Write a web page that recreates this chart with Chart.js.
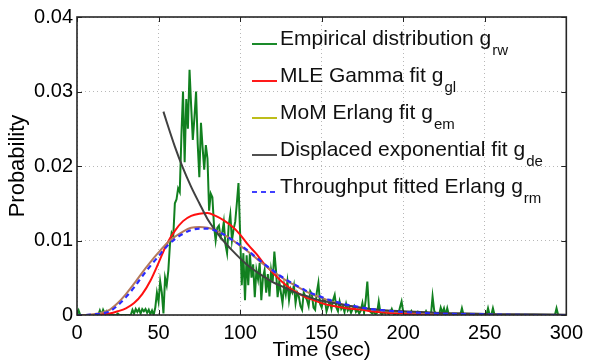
<!DOCTYPE html>
<html><head><meta charset="utf-8">
<script src="https://cdn.jsdelivr.net/npm/chart.js@4"></script>
<style>html,body{margin:0;padding:0;background:#fff;}#wrap{width:589px;height:361px;position:relative;}</style>
</head><body><div id="wrap"><canvas id="c" width="589" height="361"></canvas></div>
<script>
// ---- data ----
const xTicks = [0, 50, 100, 150, 200, 250, 300];
const yTicks = [0, 0.01, 0.02, 0.03, 0.04];
const yTickLabels = ['0', '0.01', '0.02', '0.03', '0.04'];

// Empirical distribution, one value per second, t = 0..300
const empiricalStart = 0, empiricalStep = 1;
const empirical = [
0,0.0006,0,0,0,0,0,0,0,0,
0,0,0,0,0.0006,0,0.0007,0.0002,0.0005,0,
0,0,0,0,0,0.0002,0,0,0,0,
0,0,0,0,0.0007,0.0002,0.0008,0.0004,0.0008,0.0002,
0.0008,0.0005,0.0008,0.0003,0.0007,0.0001,0.0006,0.0000,0.0010,0.0030,
0.0018,0.0045,0.0030,0.0002,0.0050,0.0040,0.0060,0.0095,0.0110,0.0105,
0.0150,0.0155,0.0170,0.0165,0.0240,0.0300,0.0205,0.0290,0.0250,0.0329,
0.0280,0.0235,0.0265,0.0300,0.0230,0.0185,0.0258,0.0225,0.0195,0.0228,
0.0210,0.0140,0.0163,0.0158,0.0120,0.0100,0.0117,0.0120,0.0105,0.0110,
0.0125,0.0095,0.0083,0.0120,0.0135,0.0100,0.0115,0.0125,0.0150,0.0177,
0.0110,0.0040,0.0083,0.0020,0.0080,0.0040,0.0083,0.0050,0.0068,0.0024,
0.0060,0.0048,0.0070,0.0020,0.0050,0.0060,0.0030,0.0055,0.0025,0.0060,
0.0045,0.0085,0.0060,0.0024,0.0045,0.0030,0.0016,0.0040,0.0028,0.0045,
0.0020,0.0035,0.0030,0.0040,0.0016,0.0030,0.0025,0.0012,0.0007,0.0030,
0.0025,0.0020,0.0012,0.0032,0.0028,0.0010,0.0007,0.0030,0.0043,0.0015,
0.0010,0.0022,0.0020,0.0005,0.0012,0.0018,0.0008,0.0020,0.0027,0.0010,
0.0005,0.0018,0.0008,0.0012,0.0004,0.0015,0.0006,0.0010,0.0003,0.0008,
0.0012,0.0004,0.0007,0.0002,0.0006,0.0016,0.0003,0.0020,0.0045,0.0008,
0.0004,0.0002,0.0004,0.0001,0.0003,0.0018,0.0003,0.0001,0.0004,0.0002,
0.0005,0.0001,0.0003,0.0008,0.0002,0,0.0004,0.0001,0.0010,0.0018,
0.0004,0.0002,0,0.0003,0,0.0005,0,0.0002,0,0.0004,
0,0.0003,0,0,0.0005,0,0.0002,0,0.0025,0.0006,
0.0001,0,0,0.0010,0.0003,0.0009,0,0.0009,0,0,
0,0,0,0,0,0,0.0009,0,0,0,
0,0,0,0,0,0,0,0,0,0,
0,0,0.0009,0,0,0.0009,0,0,0,0,
0,0,0,0,0,0,0,0,0,0,
0,0,0,0,0,0,0,0,0,0,
0,0,0,0,0,0,0,0,0,0,
0,0,0,0,0.0009,0,0,0,0,0,
0
];

const fitTimes = [0,5,10,15,20,25,30,35,40,45,50,55,60,65,70,75,80,85,90,95,100,105,110,115,120,125,130,135,140,145,150,155,160,165,170,175,180,190,200,210,220,240,260,280,300];
const mleGamma = [0,0,0,0.0001,0.0002,0.0005,0.0009,0.0016,0.0028,0.0046,0.0070,0.0095,0.0113,0.0126,0.0133,0.0136,0.0137,0.0133,0.0127,0.0119,0.0108,0.0094,0.0082,0.0068,0.0057,0.0046,0.0037,0.0030,0.0024,0.0020,0.0016,0.0013,0.0011,0.0009,0.0008,0.0007,0.0005,0.0003,0.0002,0.00015,0.0001,0.00005,0,0,0];
const momErlang = [0,0,0.0001,0.0003,0.0007,0.0016,0.0028,0.0042,0.0057,0.0071,0.0084,0.0096,0.0105,0.0112,0.0117,0.0118,0.0117,0.0114,0.0108,0.0101,0.0093,0.0085,0.0076,0.0067,0.0059,0.0051,0.0044,0.0038,0.0032,0.0027,0.0023,0.0019,0.0016,0.0013,0.0011,0.0009,0.0008,0.0005,0.0004,0.0003,0.0002,0.0001,0.00005,0,0];
const throughputErlang = [0,0,0.0001,0.0002,0.0005,0.0013,0.0024,0.0037,0.0052,0.0066,0.0079,0.0092,0.0102,0.0109,0.0114,0.0116,0.0116,0.0113,0.0108,0.0101,0.0094,0.0086,0.0077,0.0068,0.0060,0.0052,0.0045,0.0039,0.0033,0.0028,0.0024,0.0020,0.0017,0.0014,0.0012,0.0010,0.0008,0.0006,0.0004,0.0003,0.0002,0.0001,0.00005,0,0];

const expTimes = [53,55,60,65,70,75,80,85,90,95,100,105,110,115,120,125,130,135,140,145,150,155,160,165,170,180,190,200,220,240,260,280,300];
const displacedExp = [0.0273,0.0259,0.0226,0.0197,0.0172,0.0150,0.0129,0.0113,0.0099,0.0087,0.0076,0.0066,0.0058,0.0051,0.0044,0.0039,0.0034,0.0029,0.0026,0.0022,0.0019,0.0017,0.0015,0.0013,0.0011,0.0008,0.0006,0.0005,0.0003,0.0002,0.0001,0.0001,0.00005];

const legendItems = [
  {text: 'Empirical distribution g', sub: 'rw', color: '#1a8a2a', dash: []},
  {text: 'MLE Gamma fit g', sub: 'gl', color: '#ff1a1a', dash: []},
  {text: 'MoM Erlang fit g', sub: 'em', color: '#bdbd1a', dash: []},
  {text: 'Displaced exponential fit g', sub: 'de', color: '#505050', dash: []},
  {text: 'Throughput fitted Erlang g', sub: 'rm', color: '#4040ff', dash: [5, 4]}
];

// ---- build ----
const pts = (xs, ys) => ys.map((v, i) => ({x: xs[i], y: v}));
const empPts = empirical.map((v, i) => ({x: empiricalStart + i * empiricalStep, y: v}));
const FONT = '"Liberation Sans", Arial, Helvetica, sans-serif';

const boxPlugin = {
  id: 'box',
  afterDraw(chart) {
    const {ctx, chartArea: a, scales} = chart;
    ctx.save();
    // inward tick marks
    ctx.strokeStyle = '#222'; ctx.lineWidth = 1;
    xTicks.forEach(t => {
      const x = Math.round(scales.x.getPixelForValue(t)) + 0.5;
      ctx.beginPath(); ctx.moveTo(x, a.bottom); ctx.lineTo(x, a.bottom - 5);
      ctx.moveTo(x, a.top); ctx.lineTo(x, a.top + 5); ctx.stroke();
    });
    yTicks.forEach(t => {
      const y = Math.round(scales.y.getPixelForValue(t)) + 0.5;
      ctx.beginPath(); ctx.moveTo(a.left, y); ctx.lineTo(a.left + 5, y);
      ctx.moveTo(a.right, y); ctx.lineTo(a.right - 5, y); ctx.stroke();
    });
    ctx.strokeStyle = '#262626'; ctx.lineWidth = 1.6;
    ctx.strokeRect(a.left, a.top, a.right - a.left, a.bottom - a.top);
    // legend
    legendItems.forEach((it, i) => {
      const by = 45 + i * 37;
      ctx.setLineDash(it.dash);
      ctx.strokeStyle = it.color; ctx.lineWidth = 2;
      ctx.beginPath(); ctx.moveTo(252, by - 1); ctx.lineTo(277, by - 1); ctx.stroke();
      ctx.setLineDash([]);
      ctx.fillStyle = '#111'; ctx.textBaseline = 'alphabetic'; ctx.textAlign = 'left';
      ctx.font = '21px ' + FONT;
      ctx.fillText(it.text, 280, by);
      const w = ctx.measureText(it.text).width;
      ctx.font = '15px ' + FONT;
      ctx.fillText(it.sub, 280 + w + 1, by + 10);
    });
    ctx.restore();
  }
};

new Chart(document.getElementById('c'), {
  type: 'line',
  data: {
    datasets: [
      {label: 'Empirical', data: empPts, borderColor: '#11801f', borderWidth: 2, tension: 0, order: 5},
      {label: 'MLE Gamma', data: pts(fitTimes, mleGamma), borderColor: '#ff1010', borderWidth: 2, cubicInterpolationMode: 'monotone', order: 4},
      {label: 'MoM Erlang', data: pts(fitTimes, momErlang), borderColor: '#b57a5c', borderWidth: 2, cubicInterpolationMode: 'monotone', order: 3},
      {label: 'Displaced exp', data: pts(expTimes, displacedExp), borderColor: '#404040', borderWidth: 2, cubicInterpolationMode: 'monotone', order: 2},
      {label: 'Throughput Erlang', data: pts(fitTimes, throughputErlang), borderColor: '#2a2aff', borderWidth: 2.2, borderDash: [5, 4], cubicInterpolationMode: 'monotone', order: 1}
    ]
  },
  options: {
    responsive: false, animation: false, devicePixelRatio: 1,
    elements: {point: {radius: 0, hoverRadius: 0}, line: {fill: false}},
    layout: {padding: {left: 0, right: 18, top: 17, bottom: 0}},
    plugins: {legend: {display: false}, tooltip: {enabled: false}},
    scales: {
      x: {
        type: 'linear', min: 0, max: 300,
        afterBuildTicks: s => { s.ticks = xTicks.map(v => ({value: v})); },
        afterFit: s => { s.height = 46; },
        grid: {color: '#b8b8b8', lineWidth: 1, drawTicks: false},
        border: {display: false, dash: [1, 3]},
        ticks: {color: '#000', font: {family: FONT, size: 20}, padding: 6, maxRotation: 0, autoSkip: false},
        title: {display: true, text: 'Time (sec)', color: '#000', font: {family: FONT, size: 21, lineHeight: 1}, padding: 0}
      },
      y: {
        type: 'linear', min: 0, max: 0.04,
        afterBuildTicks: s => { s.ticks = yTicks.map(v => ({value: v})); },
        afterFit: s => { s.width = 77; },
        grid: {color: '#b8b8b8', lineWidth: 1, drawTicks: false},
        border: {display: false, dash: [1, 3]},
        ticks: {color: '#000', font: {family: FONT, size: 20}, padding: 4, autoSkip: false,
          callback: v => { const i = yTicks.indexOf(v); return i >= 0 ? yTickLabels[i] : ''; }},
        title: {display: true, text: 'Probability', color: '#000', font: {family: FONT, size: 22, lineHeight: 1}, padding: {top: 7, bottom: 0}}
      }
    }
  },
  plugins: [boxPlugin]
});
</script></body></html>
